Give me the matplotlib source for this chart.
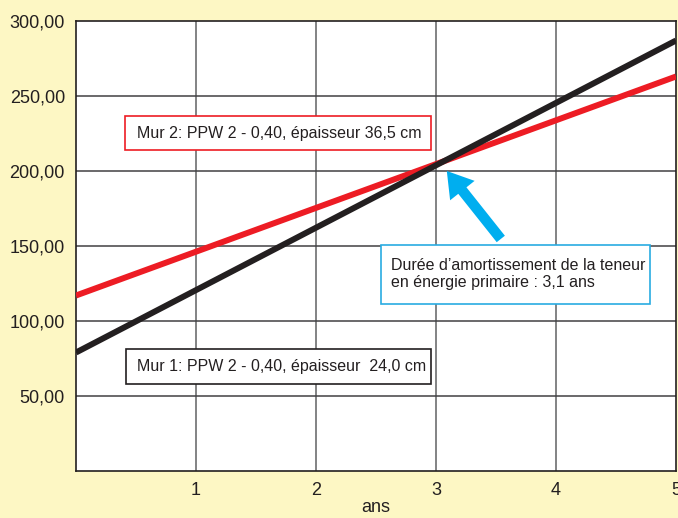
import matplotlib
matplotlib.use("Agg")
import matplotlib.pyplot as plt
from matplotlib.patches import Rectangle, FancyArrowPatch

# ---- data ----
years = [0, 5]
mur1 = [79, 287]   # Mur 1: PPW 2 - 0,40, épaisseur 24,0 cm (black)
mur2 = [117, 263]  # Mur 2: PPW 2 - 0,40, épaisseur 36,5 cm (red)
x_ticks = [1, 2, 3, 4, 5]
x_tick_labels = ["1", "2", "3", "4", "5"]
y_ticks = [50, 100, 150, 200, 250, 300]
y_tick_labels = ["50,00", "100,00", "150,00", "200,00", "250,00", "300,00"]
label_mur1 = "Mur 1: PPW 2 - 0,40, épaisseur  24,0 cm"
label_mur2 = "Mur 2: PPW 2 - 0,40, épaisseur 36,5 cm"
label_payback = "Durée d\u2019amortissement de la teneur\nen énergie primaire : 3,1 ans"
x_label = "ans"

plt.rcParams['font.family'] = ['Liberation Sans', 'DejaVu Sans']

BG = '#fdf7c4'
fig = plt.figure(figsize=(6.78, 5.18), dpi=100, facecolor=BG)
ax = fig.add_axes([76/678, 47/518, 600/678, 450/518])
ax.set_facecolor('white')
ax.set_xlim(0, 5)
ax.set_ylim(0, 300)

# grid
for xv in x_ticks[:-1]:
    ax.axvline(xv, color='#6d6e70', lw=1.2, zorder=1)
for yv in y_ticks[:-1]:
    ax.axhline(yv, color='#414042', lw=1.1, zorder=1)

ax.plot(years, mur2, color='#ed1c24', lw=4.3, solid_capstyle='butt', zorder=3)
ax.plot(years, mur1, color='#231f20', lw=4.3, solid_capstyle='butt', zorder=4)

ax.set_xticks(x_ticks)
ax.set_xticklabels(x_tick_labels, fontsize=13, color='#231f20')
ax.set_yticks(y_ticks)
ax.set_yticklabels(y_tick_labels, fontsize=13, color='#231f20')
ax.tick_params(length=0, pad=8)
ax.set_xlabel(x_label, fontsize=13, color='#231f20', labelpad=0)
for s in ax.spines.values():
    s.set_color('#231f20')
    s.set_linewidth(1.2)

# boxes
def box(x0, x1, y0, y1, ec):
    ax.add_patch(Rectangle((x0, y0), x1 - x0, y1 - y0, facecolor='white',
                           edgecolor=ec, lw=1.2, zorder=5))

box(0.409, 2.955, 214, 236.7, '#ed1c24')
ax.text(0.509, 225.3, label_mur2, fontsize=11.5, color='#231f20', va='center', ha='left', zorder=6)

box(0.417, 2.955, 58, 81.3, '#231f20')
ax.text(0.509, 69.7, label_mur1, fontsize=11.5, color='#231f20', va='center', ha='left', zorder=6)

box(2.538, 4.783, 111.3, 150.7, '#29abe2')
ax.text(2.621, 131.3, label_payback, fontsize=11.5, color='#231f20', va='center', ha='left',
        linespacing=1.15, zorder=6)

arrow = FancyArrowPatch((3.54, 154.7), (3.09, 200),
                        arrowstyle="simple,head_length=1.2,head_width=1.5,tail_width=0.5",
                        mutation_scale=15, color='#00aeef', lw=0, zorder=7,
                        shrinkA=0, shrinkB=0)
ax.add_patch(arrow)

fig.savefig('out.png', dpi=100, facecolor=BG)
